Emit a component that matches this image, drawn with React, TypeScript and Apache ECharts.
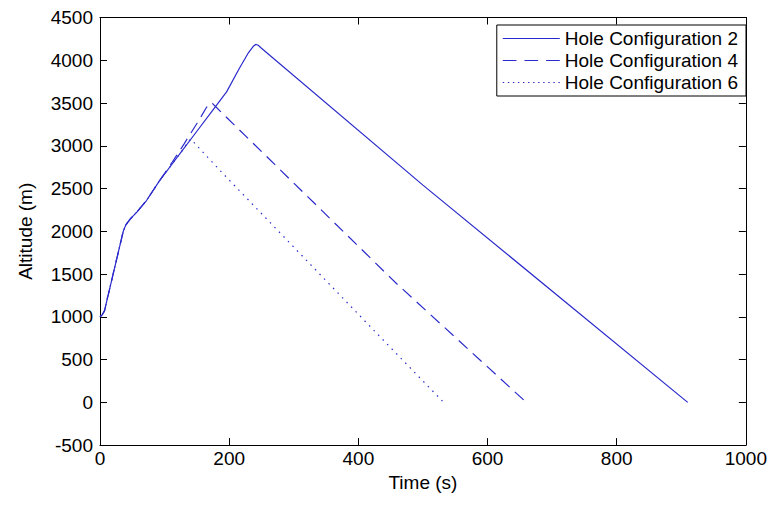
import React, { useEffect, useRef } from "react";
import * as echarts from "echarts";

const seriesNames = ["Hole Configuration 2", "Hole Configuration 4", "Hole Configuration 6"];

const time2 = [0, 3, 7, 10, 36, 40, 47, 57, 72, 92, 112, 127, 150, 175, 196, 215, 230, 237, 241, 245, 250, 500, 910];
const alt2 = [1000, 1020, 1070, 1170, 2000, 2075, 2145, 2225, 2360, 2590, 2790, 2940, 3170, 3420, 3630, 3895, 4090, 4160, 4185, 4175, 4140, 2540, 0];

const time4 = [0, 3, 7, 10, 36, 40, 47, 57, 72, 92, 112, 130, 150, 165, 170, 174, 180, 459, 660];
const alt4 = [1000, 1020, 1070, 1170, 2000, 2075, 2145, 2225, 2360, 2590, 2810, 3020, 3260, 3450, 3500, 3495, 3450, 1390, 0];

const time6 = [0, 3, 7, 10, 36, 40, 47, 57, 72, 92, 112, 127, 136, 140, 144, 188, 437, 532];
const alt6 = [1000, 1020, 1070, 1170, 2000, 2075, 2145, 2225, 2360, 2590, 2790, 2940, 3040, 3075, 3050, 2694, 740, 0];

const xMin = 0, xMax = 1000, xStep = 200;
const yMin = -500, yMax = 4500, yStep = 500;

const zip = (t: number[], a: number[]) => t.map((v, i) => [v, a[i]]);

// legend sample icons (dash patterns drawn as filled segments)
const dashIcon = (dash: number, gap: number, total: number) => {
  let d = "path://";
  for (let x = 0; x < total; x += dash + gap) {
    const w = Math.min(dash, total - x);
    d += `M${x},0H${x + w}V1H${x}Z`;
  }
  return d;
};

export default function App() {
  const ref = useRef<HTMLDivElement>(null);
  useEffect(() => {
    if (!ref.current) return;
    const chart = echarts.init(ref.current, null, { renderer: "svg" });
    const font = "Liberation Sans, Arial, sans-serif";
    const fs = 19;
    const lineColor = "#2a2acc";
    const axisBase = {
      axisLine: { show: true, onZero: false, lineStyle: { color: "#000", width: 1 } },
      axisTick: { show: true, inside: true, length: 7, lineStyle: { color: "#000" } },
      splitLine: { show: false },
    };
    const fmt = (v: number) => String(v);
    const iconW = 57;
    chart.setOption({
      animation: false,
      backgroundColor: "#fff",
      grid: { left: 84, right: 15, top: 8, bottom: 35 },
      legend: {
        data: [
          { name: seriesNames[0], icon: dashIcon(iconW, 0, iconW) },
          { name: seriesNames[1], icon: dashIcon(12, 7, iconW) },
          { name: seriesNames[2], icon: dashIcon(1.4, 3.6, iconW) },
        ],
        orient: "vertical",
        right: 24,
        top: 17,
        itemWidth: iconW,
        itemHeight: 1.2,
        itemGap: 3,
        padding: [4, 8, 4, 6],
        borderColor: "#000",
        borderWidth: 1,
        backgroundColor: "#fff",
        textStyle: { fontFamily: font, fontSize: fs, color: "#000", lineHeight: 19 },
      },
      xAxis: [
        {
          type: "value", min: xMin, max: xMax, interval: xStep, position: "bottom",
          name: "Time (s)", nameLocation: "middle", nameGap: 23,
          nameTextStyle: { fontFamily: font, fontSize: fs, color: "#000" },
          axisLabel: { fontFamily: font, fontSize: fs, color: "#000", margin: 4, formatter: fmt },
          ...axisBase,
        },
        {
          type: "value", min: xMin, max: xMax, interval: xStep, position: "top",
          axisLabel: { show: false },
          ...axisBase,
        },
      ],
      yAxis: [
        {
          type: "value", min: yMin, max: yMax, interval: yStep, position: "left",
          name: "Altitude (m)", nameLocation: "middle", nameGap: 65,
          nameTextStyle: { fontFamily: font, fontSize: fs, color: "#000" },
          axisLabel: { fontFamily: font, fontSize: fs, color: "#000", margin: 7, formatter: fmt },
          ...axisBase,
        },
        {
          type: "value", min: yMin, max: yMax, interval: yStep, position: "right",
          axisLabel: { show: false },
          ...axisBase,
        },
      ],
      series: [
        {
          name: seriesNames[0], type: "line", data: zip(time2, alt2), symbol: "none",
          lineStyle: { color: lineColor, width: 1.2, type: "solid" }, itemStyle: { color: lineColor },
        },
        {
          name: seriesNames[1], type: "line", data: zip(time4, alt4), symbol: "none",
          lineStyle: { color: lineColor, width: 1.2, type: [12, 7] }, itemStyle: { color: lineColor },
        },
        {
          name: seriesNames[2], type: "line", data: zip(time6, alt6), symbol: "none",
          lineStyle: { color: lineColor, width: 1.2, type: [1.5, 5] }, itemStyle: { color: lineColor },
        },
      ],
    });
    return () => chart.dispose();
  }, []);
  return <div ref={ref} style={{ width: 762, height: 489 }} />;
}
